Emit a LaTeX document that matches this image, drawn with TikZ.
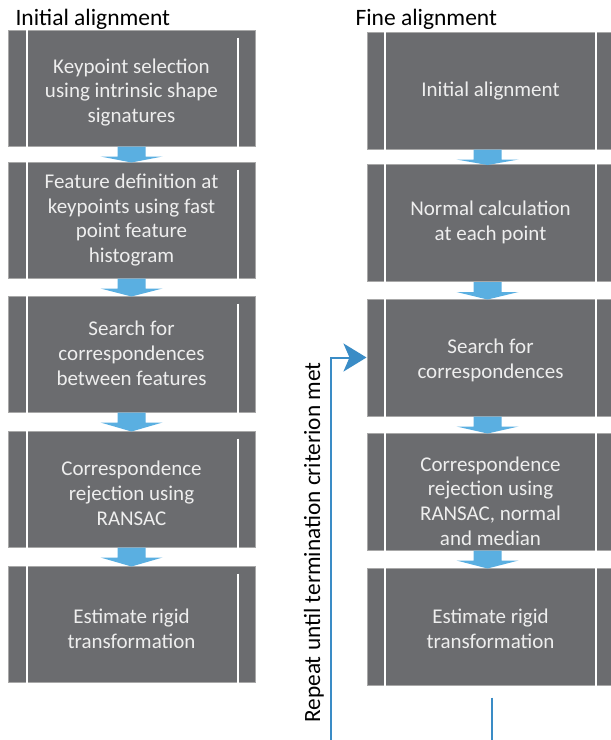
\documentclass[tikz,border=0pt]{standalone}
\usepackage{fontspec}
\setmainfont{Carlito}
\usetikzlibrary{calc,arrows.meta}
\definecolor{boxgray}{HTML}{6B6C6F}
\definecolor{boxborder}{HTML}{A8A8A8}
\definecolor{boxtext}{HTML}{EEEEEE}
\definecolor{arrowblue}{HTML}{5AAFE1}
\definecolor{loopblue}{HTML}{3A8CC6}
\tikzset{
  stepbox/.style={rectangle, fill=boxgray, draw=boxborder, line width=1pt,
    minimum width=247pt, minimum height=116pt, inner sep=0pt},
  steptext/.style={inner sep=0pt, text=boxtext, align=center,
    font=\fontsize{21}{24.8}\selectfont},
  title/.style={anchor=base west, font=\fontsize{23.5}{28}\selectfont, text=black},
  innerline/.style={white, line width=2pt},
  looparrow/.style={loopblue, line width=2pt, -{Stealth[length=23pt,width=28pt,inset=6pt]}},
  loopline/.style={loopblue, line width=2pt}
}
\newcommand{\blockarr}[3]{%
  \fill[arrowblue] ($(#1.south)+(#3-14,0)$) -- ($(#1.south)+(#3+14,0)$) --
    ($(#1.south)+(#3+14,10)$) -- ($(#1.south)+(#3+31,10)$) --
    ($(#2.north)+(#3,1)$) -- ($(#1.south)+(#3-31,10)$) --
    ($(#1.south)+(#3-14,10)$) -- cycle;}
\newcommand{\leftlines}[1]{%
  \draw[innerline] ([xshift=19pt]#1.north west) -- ([xshift=19pt]#1.south west);
  \draw[innerline] ([xshift=-18pt,yshift=-8pt]#1.north east) -- ([xshift=-18pt]#1.south east);}
\newcommand{\rightlines}[1]{%
  \draw[innerline] ([xshift=18pt]#1.north west) -- ([xshift=18pt]#1.south west);
  \draw[innerline] ([xshift=-19pt]#1.north east) -- ([xshift=-19pt]#1.south east);}
\newcommand{\boxlabel}[3]{\node[steptext] (#1t) at ($(#1)+(0,#2)$) {#3};}
\begin{document}
\begin{tikzpicture}[x=1pt,y=-1pt]
\useasboundingbox[fill=white] (0,0) rectangle (611,740);
\node[title] (t1) at (12,25) {Initial alignment};
\node[title] (t2) at (352,25) {Fine alignment};
% left column
\node[stepbox] (L1) at (131.5,88) {};
\node[stepbox] (L2) at (131.5,220) {};
\node[stepbox] (L3) at (131.5,354) {};
\node[stepbox] (L4) at (131.5,489) {};
\node[stepbox] (L5) at (131.5,624) {};
\boxlabel{L1}{4.5}{Keypoint selection\\using intrinsic shape\\signatures}
\boxlabel{L2}{0}{Feature definition at\\keypoints using fast\\point feature\\histogram}
\boxlabel{L3}{-1}{Search for\\correspondences\\between features}
\boxlabel{L4}{4}{Correspondence\\rejection using\\RANSAC}
\boxlabel{L5}{5}{Estimate rigid\\transformation}
\foreach \n in {L1,L2,L3,L4,L5} {\leftlines{\n}}
\blockarr{L1}{L2}{0}
\blockarr{L2}{L3}{0}
\blockarr{L3}{L4}{0}
\blockarr{L4}{L5}{0}
% right column
\node[stepbox, minimum height=117pt] (R1) at (490.5,90.5) {};
\node[stepbox, minimum height=117pt] (R2) at (490.5,223) {};
\node[stepbox, minimum height=117pt] (R3) at (490.5,357.5) {};
\node[stepbox, minimum height=117pt] (R4) at (490.5,491.5) {};
\node[stepbox, minimum height=117pt] (R5) at (490.5,626.5) {};
\boxlabel{R1}{1}{Initial alignment}
\boxlabel{R2}{-1}{Normal calculation\\at each point}
\boxlabel{R3}{3}{Search for\\correspondences}
\boxlabel{R4}{9.5}{Correspondence\\rejection using\\RANSAC, normal\\and median}
\boxlabel{R5}{2}{Estimate rigid\\transformation}
\foreach \n in {R1,R2,R3,R4,R5} {\rightlines{\n}}
\blockarr{R1}{R2}{-3}
\blockarr{R2}{R3}{-3}
\blockarr{R3}{R4}{-3}
\blockarr{R4}{R5}{-3}
% loop
\coordinate (loopstart) at (331,740);
\draw[looparrow] (loopstart) |- (R3.west);
\node[rotate=90, font=\fontsize{23.3}{28}\selectfont, text=black] (rep) at (314,542.5) {Repeat until termination criterion met};
\coordinate (outtop) at ($(R5.south)+(1.5,12)$);
\coordinate (outend) at ($(R5.south)+(1.5,55)$);
\draw[loopline] (outtop) -- (outend);
\end{tikzpicture}
\end{document}
